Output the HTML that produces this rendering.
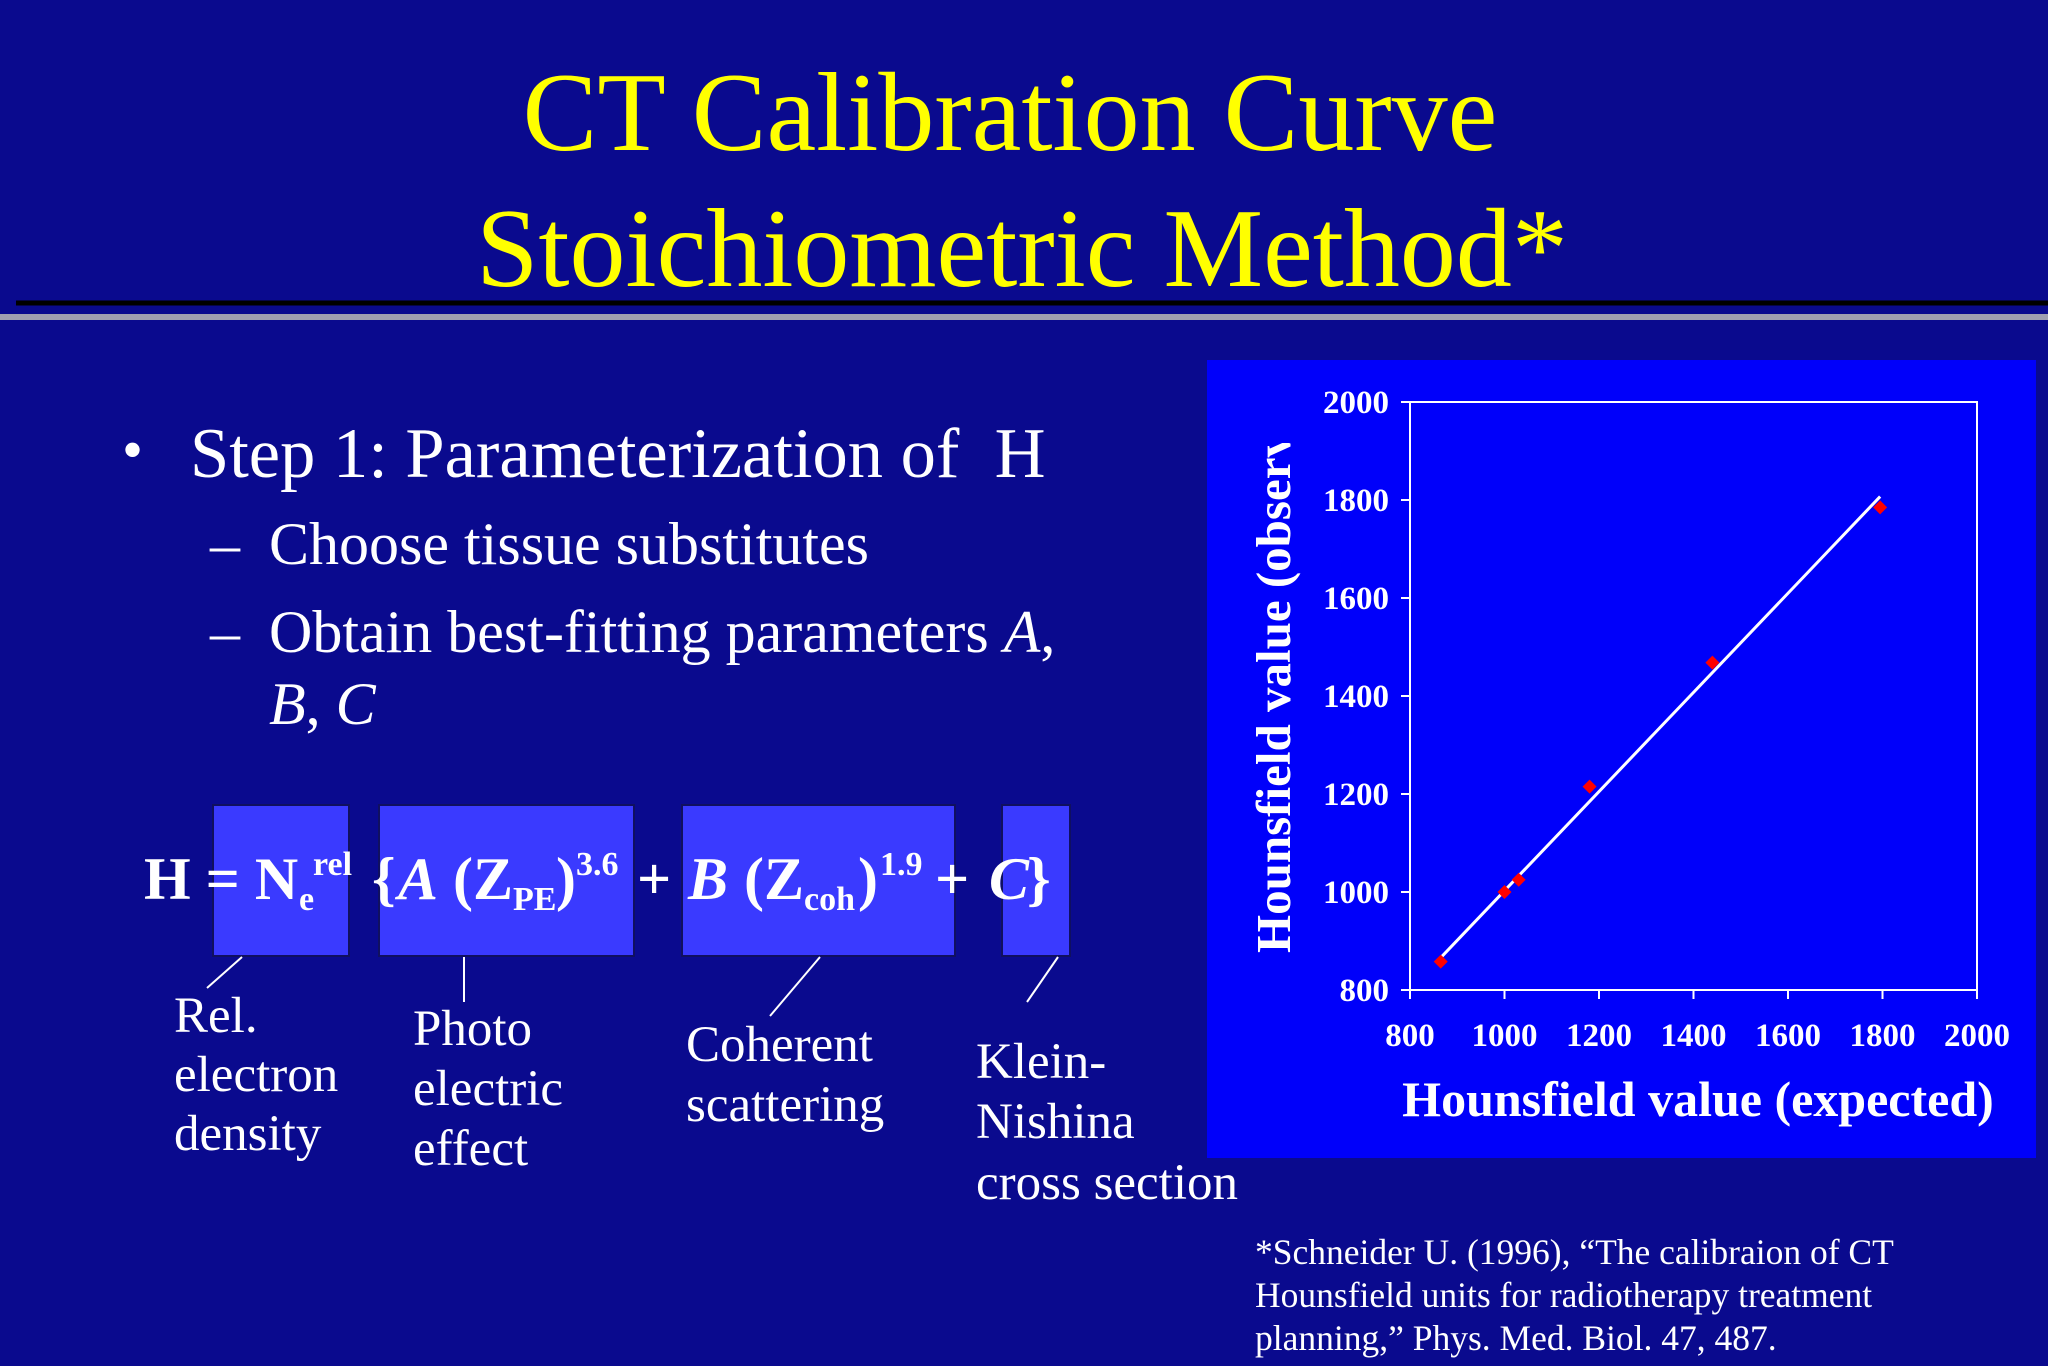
<!DOCTYPE html>
<html><head><meta charset="utf-8"><style>
html,body{margin:0;padding:0;background:#0a0a8e;}
svg{display:block;font-family:"Liberation Serif",serif;}
</style></head><body>
<svg width="2048" height="1366" viewBox="0 0 2048 1366" xmlns="http://www.w3.org/2000/svg">
<rect width="2048" height="1366" fill="#0a0a8e"/>
<g fill="#ffff00" font-size="112" text-anchor="middle">
<text x="1010" y="150">CT Calibration Curve</text>
<text x="1022" y="286">Stoichiometric Method*</text>
</g>
<line x1="16" y1="303" x2="2048" y2="303" stroke="#000" stroke-width="5"/>
<line x1="0" y1="317" x2="2048" y2="317" stroke="#a0a0b0" stroke-width="6"/>
<g fill="#fff">
<text x="122" y="470" font-size="60">•</text>
<text x="190" y="477" font-size="70.5" xml:space="preserve">Step 1: Parameterization of  H</text>
<text x="210" y="564" font-size="60">–</text>
<text x="269" y="564" font-size="60">Choose tissue substitutes</text>
<text x="210" y="652" font-size="60">–</text>
<text x="269" y="652" font-size="60">Obtain best-fitting parameters <tspan font-style="italic">A</tspan>,</text>
<text x="269" y="724" font-size="60"><tspan font-style="italic">B</tspan>, <tspan font-style="italic">C</tspan></text>
</g>
<g fill="#3a3aff" stroke="#101060" stroke-width="2">
<rect x="213" y="805" width="136" height="151"/>
<rect x="379" y="805" width="255" height="151"/>
<rect x="682" y="805" width="273" height="151"/>
<rect x="1002" y="805" width="68" height="151"/>
</g>
<g fill="#fff" font-weight="bold" font-size="60">
<text x="144" y="899">H = N</text>
<text x="299" y="910" font-size="34">e</text>
<text x="313" y="875" font-size="34">rel</text>
<text x="372" y="899">{</text>
<text x="398" y="899" font-style="italic">A</text>
<text x="453" y="899">(Z</text>
<text x="513" y="910" font-size="34">PE</text>
<text x="556" y="899">)</text>
<text x="576" y="875" font-size="34">3.6</text>
<text x="637" y="899">+</text>
<text x="688" y="899" font-style="italic">B</text>
<text x="744" y="899">(Z</text>
<text x="804" y="910" font-size="34">coh</text>
<text x="858" y="899">)</text>
<text x="880" y="875" font-size="34">1.9</text>
<text x="935" y="899">+</text>
<text x="989" y="899" font-style="italic">C</text>
<text x="1027" y="899">}</text>
</g>
<g stroke="#fff" stroke-width="2">
<line x1="242" y1="957" x2="207" y2="988"/>
<line x1="464" y1="957" x2="464" y2="1002"/>
<line x1="820" y1="957" x2="770" y2="1016"/>
<line x1="1058" y1="957" x2="1027" y2="1002"/>
</g>
<g fill="#fff" font-size="51">
<text x="174" y="1032"><tspan x="174">Rel.</tspan><tspan x="174" dy="59">electron</tspan><tspan x="174" dy="59">density</tspan></text>
<text x="413" y="1045"><tspan x="413">Photo</tspan><tspan x="413" dy="60">electric</tspan><tspan x="413" dy="60">effect</tspan></text>
<text x="686" y="1061"><tspan x="686">Coherent</tspan><tspan x="686" dy="60">scattering</tspan></text>
<text x="976" y="1078"><tspan x="976">Klein-</tspan><tspan x="976" dy="60">Nishina</tspan><tspan x="976" dy="61">cross section</tspan></text>
</g>
<g fill="#fff" font-size="35.5">
<text x="1255" y="1264">*Schneider U. (1996), “The calibraion of CT</text>
<text x="1255" y="1307">Hounsfield units for radiotherapy treatment</text>
<text x="1255" y="1350">planning,” Phys. Med. Biol. 47, 487.</text>
</g>
<rect x="1207" y="360" width="829" height="798" fill="#0000fa"/>
<defs><clipPath id="ylabclip"><rect x="1207" y="443" width="200" height="700"/></clipPath></defs>
<g id="chart"></g>
</svg>
<script>
const xTicks = [800, 1000, 1200, 1400, 1600, 1800, 2000];
const yTicks = [800, 1000, 1200, 1400, 1600, 1800, 2000];
const expected = [865, 1000, 1030, 1180, 1440, 1795];
const observed = [858, 1000, 1025, 1215, 1468, 1785];
const fitX = [865, 1795];
const fitY = [866, 1807];

const NS = 'http://www.w3.org/2000/svg';
const g = document.getElementById('chart');
const L = 1410, R = 1977, T = 402, B = 990;
const sx = v => L + (v - 800) / 1200 * (R - L);
const sy = v => B - (v - 800) / 1200 * (B - T);
function mk(tag, attrs, parent) {
  const e = document.createElementNS(NS, tag);
  for (const k in attrs) e.setAttribute(k, attrs[k]);
  (parent || g).appendChild(e);
  return e;
}
const frame = mk('rect', {x: L, y: T, width: R - L, height: B - T, fill: 'none', stroke: '#fff', 'stroke-width': 2});


xTicks.forEach(v => {
  const t = mk('line', {x1: sx(v), x2: sx(v), y1: B, y2: B + 9, stroke: '#fff', 'stroke-width': 2});
  
  
  const tx = mk('text', {x: sx(v), y: 1046, fill: '#fff', 'font-size': 33, 'font-weight': 'bold', 'text-anchor': 'middle'});
  tx.textContent = v;
  
  
});
yTicks.forEach(v => {
  const t = mk('line', {x1: L - 9, x2: L, y1: sy(v), y2: sy(v), stroke: '#fff', 'stroke-width': 2});
  
  
  const tx = mk('text', {x: 1389, y: sy(v) + 11, fill: '#fff', 'font-size': 33, 'font-weight': 'bold', 'text-anchor': 'end'});
  tx.textContent = v;
  
  
});
const fit = mk('line', {x1: sx(fitX[0]), y1: sy(fitY[0]), x2: sx(fitX[1]), y2: sy(fitY[1]), stroke: '#fff', 'stroke-width': 3});


expected.forEach((x, i) => {
  const cx = sx(x), cy = sy(observed[i]), s = 7;
  const p = mk('polygon', {points: `${cx},${cy - s} ${cx + s},${cy} ${cx},${cy + s} ${cx - s},${cy}`, fill: '#ff0000'});
  
  
});
const xt = mk('text', {x: 1698, y: 1116, fill: '#fff', 'font-size': 50, 'font-weight': 'bold', 'text-anchor': 'middle'});
xt.textContent = 'Hounsfield value (expected)';


const yg = mk('g', {'clip-path': 'url(#ylabclip)'});


const yt = mk('text', {x: 0, y: 0, fill: '#fff', 'font-size': 49, 'font-weight': 'bold', transform: 'translate(1290,953) rotate(-90)'}, yg);
yt.textContent = 'Hounsfield value (observed)';


</script>
</body></html>
